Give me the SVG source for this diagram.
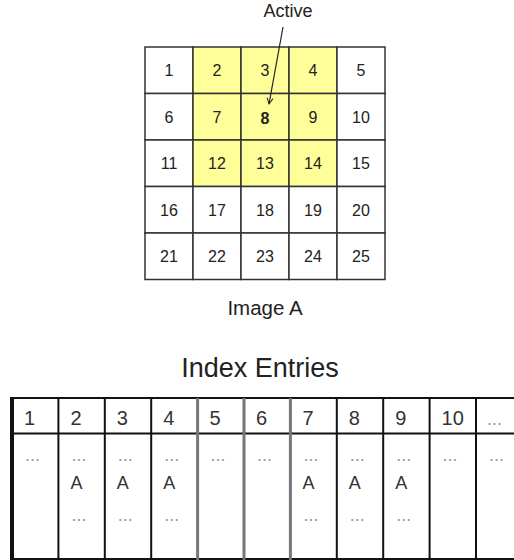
<svg xmlns="http://www.w3.org/2000/svg" width="514" height="560" viewBox="0 0 514 560">
  <defs>
    <style>
      .cell { stroke: #333; stroke-width: 1.5; }
      .w { fill: #ffffff; }
      .y { fill: #ffff99; }
      .num { font-family: "Liberation Sans", Arial, sans-serif; font-size: 16px; fill: #222; text-anchor: middle; }
      .lbl { font-family: "Liberation Sans", Arial, sans-serif; fill: #222; }
      .hdr { font-family: "Liberation Sans", Arial, sans-serif; font-size: 20px; fill: #333; }
      .a { font-family: "Liberation Sans", Arial, sans-serif; font-size: 18px; fill: #333; }
      .dots { font-family: "Liberation Sans", Arial, sans-serif; font-size: 18px; fill: #999; }
      .tl { stroke: #111; stroke-width: 2; fill: none; }
      .tg { stroke: #777; stroke-width: 3; fill: none; }
    </style>
    <marker id="arr" markerWidth="8" markerHeight="8" refX="7" refY="4" orient="auto" markerUnits="userSpaceOnUse">
      <path d="M1,1 L7,4 L1,7" fill="none" stroke="#222" stroke-width="1"/>
    </marker>
  </defs>

  <g id="image-a">
    <g id="row1">
      <rect class="cell w" x="145" y="47" width="48" height="46.5"/><text class="num" x="169" y="76">1</text>
      <rect class="cell y" x="193" y="47" width="48" height="46.5"/><text class="num" x="217" y="76">2</text>
      <rect class="cell y" x="241" y="47" width="48" height="46.5"/><text class="num" x="265" y="76">3</text>
      <rect class="cell y" x="289" y="47" width="48" height="46.5"/><text class="num" x="313" y="76">4</text>
      <rect class="cell w" x="337" y="47" width="48" height="46.5"/><text class="num" x="361" y="76">5</text>
    </g>
    <g id="row2">
      <rect class="cell w" x="145" y="93.5" width="48" height="46.5"/><text class="num" x="169" y="122.5">6</text>
      <rect class="cell y" x="193" y="93.5" width="48" height="46.5"/><text class="num" x="217" y="122.5">7</text>
      <rect class="cell y" x="241" y="93.5" width="48" height="46.5"/><text class="num" x="265" y="124" font-size="20" font-weight="bold" fill="#000">8</text>
      <rect class="cell y" x="289" y="93.5" width="48" height="46.5"/><text class="num" x="313" y="122.5">9</text>
      <rect class="cell w" x="337" y="93.5" width="48" height="46.5"/><text class="num" x="361" y="122.5">10</text>
    </g>
    <g id="row3">
      <rect class="cell w" x="145" y="140" width="48" height="46.5"/><text class="num" x="169" y="169">11</text>
      <rect class="cell y" x="193" y="140" width="48" height="46.5"/><text class="num" x="217" y="169">12</text>
      <rect class="cell y" x="241" y="140" width="48" height="46.5"/><text class="num" x="265" y="169">13</text>
      <rect class="cell y" x="289" y="140" width="48" height="46.5"/><text class="num" x="313" y="169">14</text>
      <rect class="cell w" x="337" y="140" width="48" height="46.5"/><text class="num" x="361" y="169">15</text>
    </g>
    <g id="row4">
      <rect class="cell w" x="145" y="186.5" width="48" height="46.5"/><text class="num" x="169" y="215.5">16</text>
      <rect class="cell w" x="193" y="186.5" width="48" height="46.5"/><text class="num" x="217" y="215.5">17</text>
      <rect class="cell w" x="241" y="186.5" width="48" height="46.5"/><text class="num" x="265" y="215.5">18</text>
      <rect class="cell w" x="289" y="186.5" width="48" height="46.5"/><text class="num" x="313" y="215.5">19</text>
      <rect class="cell w" x="337" y="186.5" width="48" height="46.5"/><text class="num" x="361" y="215.5">20</text>
    </g>
    <g id="row5">
      <rect class="cell w" x="145" y="233" width="48" height="46.5"/><text class="num" x="169" y="262">21</text>
      <rect class="cell w" x="193" y="233" width="48" height="46.5"/><text class="num" x="217" y="262">22</text>
      <rect class="cell w" x="241" y="233" width="48" height="46.5"/><text class="num" x="265" y="262">23</text>
      <rect class="cell w" x="289" y="233" width="48" height="46.5"/><text class="num" x="313" y="262">24</text>
      <rect class="cell w" x="337" y="233" width="48" height="46.5"/><text class="num" x="361" y="262">25</text>
    </g>
    <text id="image-a-label" class="lbl" x="265" y="315" font-size="20.5" text-anchor="middle">Image A</text>
  </g>

  <g id="active-label">
    <text class="lbl" x="288" y="17" font-size="18" text-anchor="middle">Active</text>
  </g>

  <g id="connectors">
    <line x1="283" y1="27" x2="269" y2="104" stroke="#222" stroke-width="1.2" marker-end="url(#arr)"/>
  </g>

  <g id="index-entries">
    <text class="lbl" x="260" y="377" font-size="27" text-anchor="middle" fill="#111">Index Entries</text>
    <rect x="0" y="398" width="514" height="162" fill="#fff"/>
    <line class="tl" x1="10" y1="398" x2="514" y2="398"/>
    <line class="tl" x1="10" y1="433.5" x2="514" y2="433.5"/>
    <line class="tl" x1="10" y1="559" x2="514" y2="559"/>
    <line x1="12" y1="397" x2="12" y2="560" stroke="#111" stroke-width="4"/>
    <line class="tl" x1="58.4" y1="398" x2="58.4" y2="560"/>
    <line class="tl" x1="104.8" y1="398" x2="104.8" y2="560"/>
    <line class="tl" x1="151.2" y1="398" x2="151.2" y2="560"/>
    <line class="tg" x1="197.6" y1="398" x2="197.6" y2="560"/>
    <line class="tg" x1="244" y1="398" x2="244" y2="560"/>
    <line class="tg" x1="290.4" y1="398" x2="290.4" y2="560"/>
    <line class="tl" x1="336.8" y1="398" x2="336.8" y2="560"/>
    <line class="tl" x1="383.2" y1="398" x2="383.2" y2="560"/>
    <line class="tl" x1="429.6" y1="398" x2="429.6" y2="560"/>
    <line class="tl" x1="476" y1="398" x2="476" y2="560"/>

    <g id="headers">
      <text class="hdr" x="24" y="425">1</text>
      <text class="hdr" x="70.4" y="425">2</text>
      <text class="hdr" x="116.8" y="425">3</text>
      <text class="hdr" x="163.2" y="425">4</text>
      <text class="hdr" x="209.6" y="425">5</text>
      <text class="hdr" x="256" y="425">6</text>
      <text class="hdr" x="302.4" y="425">7</text>
      <text class="hdr" x="348.8" y="425">8</text>
      <text class="hdr" x="395.2" y="425">9</text>
      <text class="hdr" x="441.6" y="425">10</text>
      <text class="dots" x="487" y="425">...</text>
    </g>
    <g id="top-dots">
      <text class="dots" x="25" y="461">...</text>
      <text class="dots" x="71.4" y="461">...</text>
      <text class="dots" x="117.8" y="461">...</text>
      <text class="dots" x="164.2" y="461">...</text>
      <text class="dots" x="210.6" y="461">...</text>
      <text class="dots" x="257" y="461">...</text>
      <text class="dots" x="303.4" y="461">...</text>
      <text class="dots" x="349.8" y="461">...</text>
      <text class="dots" x="396.2" y="461">...</text>
      <text class="dots" x="442.6" y="461">...</text>
      <text class="dots" x="489" y="461">...</text>
    </g>
    <g id="a-entries">
      <text class="a" x="70.4" y="489">A</text>
      <text class="a" x="116.8" y="489">A</text>
      <text class="a" x="163.2" y="489">A</text>
      <text class="a" x="302.4" y="489">A</text>
      <text class="a" x="348.8" y="489">A</text>
      <text class="a" x="395.2" y="489">A</text>
    </g>
    <g id="bottom-dots">
      <text class="dots" x="71.4" y="521">...</text>
      <text class="dots" x="117.8" y="521">...</text>
      <text class="dots" x="164.2" y="521">...</text>
      <text class="dots" x="303.4" y="521">...</text>
      <text class="dots" x="349.8" y="521">...</text>
      <text class="dots" x="396.2" y="521">...</text>
    </g>
  </g>
</svg>
